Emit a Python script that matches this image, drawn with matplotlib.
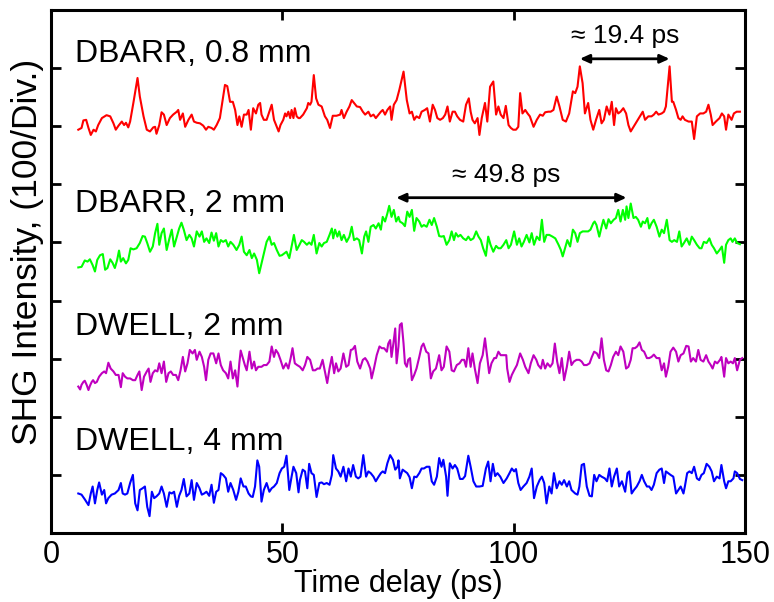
import numpy as np
import matplotlib
matplotlib.use("Agg")
import matplotlib.pyplot as plt

# SHG autocorrelation traces, (delay in ps, counts above the trace's own baseline)
dbarr_08mm = [
    (5.9, -6), (6.6, -3), (7.0, 10), (7.6, 11), (8.1, -3), (8.6, -15), (9.2, -6), (9.7, -9),
    (10.2, 2), (11.0, 14), (12.0, 19), (12.8, 17), (13.5, 5), (14.0, -6), (14.6, 1), (15.3, 8),
    (15.8, 2), (16.2, 6), (16.7, -2), (17.1, 8), (17.8, 40), (18.7, 83), (19.2, 51), (20.0, 17),
    (20.7, -6), (21.4, -9), (22.1, -2), (22.5, -1), (22.8, -13), (23.4, 2), (23.9, 24), (24.4, 20),
    (25.0, 2), (25.7, 14), (26.4, 20), (27.2, 25), (27.5, 28), (27.9, 11), (28.5, 22), (29.0, -1),
    (29.7, 11), (30.4, 20), (30.9, 8), (31.5, 6), (32.2, 5), (32.9, 1), (33.5, -6), (34.0, -1),
    (34.7, -3), (35.2, -6), (35.8, 2), (36.5, 14), (37.1, 45), (37.6, 71), (38.1, 69), (38.7, 42),
    (39.3, 42), (39.8, 28), (40.3, 2), (40.7, 17), (41.2, -1), (41.7, 20), (42.3, 20), (42.7, 28),
    (43.2, -6), (43.7, 31), (44.3, 22), (44.8, 37), (45.2, 40), (45.5, 20), (46.0, 11), (46.6, 11),
    (47.2, 25), (47.7, 37), (48.2, 11), (48.8, -1), (49.2, -9), (49.6, 2), (50.2, 11), (50.6, 22),
    (50.9, 17), (51.3, 25), (51.7, 14), (52.0, 28), (52.4, 14), (52.7, 31), (53.1, 17), (53.5, 14),
    (53.8, 14), (54.5, 20), (55.3, 31), (55.6, 40), (56.0, 37), (56.3, 42), (56.8, 88), (57.3, 48),
    (57.8, 37), (58.5, 34), (59.2, 17), (59.7, 11), (60.3, -3), (60.9, 18), (61.7, 18), (62.5, 20),
    (62.8, 28), (63.3, 14), (63.9, 25), (64.5, 34), (65.0, 45), (65.5, 40), (66.1, 34), (66.8, 33),
    (67.4, 25), (67.9, 20), (68.6, 25), (69.1, 17), (69.7, 20), (70.2, 14), (70.8, 20), (71.3, 25),
    (71.7, 28), (72.2, 20), (72.7, 28), (73.3, 34), (73.6, 11), (74.1, 37), (74.7, 45), (75.3, 63),
    (76.2, 94), (76.9, 45), (77.5, 22), (78.0, 25), (78.5, 11), (79.0, 17), (79.6, 14), (80.1, 25),
    (80.8, 28), (81.3, 31), (81.9, 8), (82.5, 37), (83.0, 28), (83.5, 14), (84.1, 11), (84.7, 14),
    (85.2, 20), (85.7, 34), (86.2, 8), (86.8, 25), (87.3, 25), (87.8, 17), (88.4, 11), (89.1, 8),
    (89.7, 37), (90.3, 48), (90.7, 25), (91.1, 11), (91.6, 5), (92.2, 14), (92.6, -15), (93.1, 14),
    (93.8, 40), (94.3, 8), (94.9, 68), (95.6, 77), (96.2, 20), (96.7, 34), (97.2, 20), (97.8, 14),
    (98.3, 35), (98.9, 2), (99.4, -3), (99.9, -6), (100.5, -6), (101.0, -1), (101.4, 57), (101.9, 22),
    (102.5, 28), (103.0, 22), (103.5, 17), (104.3, -1), (105.0, 11), (105.7, 20), (106.3, 18), (106.8, 24),
    (107.5, 25), (108.0, 25), (108.6, 28), (109.3, 51), (109.9, 34), (110.6, 11), (111.3, 8), (112.0, 22),
    (112.8, 60), (113.3, 57), (113.8, 68), (114.3, 103), (114.9, 74), (115.4, 22), (116.1, 40), (116.6, 11),
    (117.2, -6), (117.8, 11), (118.5, 28), (119.0, 5), (119.5, 11), (120.1, 34), (120.7, 20), (121.2, 42),
    (121.7, 2), (122.1, 31), (122.6, 22), (123.1, 25), (123.7, 31), (124.3, 22), (124.8, 2), (125.3, -9),
    (125.9, -1), (126.6, 8), (127.3, 17), (127.9, 25), (128.4, 11), (129.1, 17), (129.8, 17), (130.3, 20),
    (130.8, 25), (131.3, 20), (132.0, 22), (132.5, 25), (132.9, 34), (133.7, 103), (134.2, 42), (134.5, 42),
    (135.1, 28), (135.6, 14), (136.1, 11), (136.5, 17), (137.0, 11), (137.8, 8), (138.5, 8), (139.0, -22),
    (139.6, 17), (140.3, 22), (141.0, 22), (141.6, 25), (142.1, 37), (142.6, 20), (143.0, 2), (143.7, 8),
    (144.5, 14), (145.0, 22), (145.5, 17), (145.9, -6), (146.4, 20), (147.1, 11), (147.6, 22), (148.2, 25),
    (148.9, 25),
]

dbarr_2mm = [
    (5.9, -43), (6.6, -42), (7.3, -31), (7.9, -33), (8.4, -29), (9.0, -39), (9.5, -50), (10.0, -30),
    (10.6, -22), (11.2, -20), (11.7, -47), (12.2, -44), (12.8, -29), (13.3, -35), (13.8, -44), (14.3, -30),
    (14.7, -14), (15.1, -33), (15.6, -27), (16.2, -36), (16.7, -30), (17.2, -10), (17.8, -12), (18.5, -10),
    (19.2, -1), (19.8, 11), (20.3, 10), (20.8, -1), (21.4, -16), (22.0, -7), (22.5, 16), (23.0, 32),
    (23.4, -4), (23.9, 16), (24.4, 24), (25.0, -13), (25.6, 7), (26.1, 22), (26.6, -7), (27.2, 10),
    (27.7, 24), (28.2, 34), (28.7, 22), (29.3, 4), (29.9, 13), (30.4, 7), (30.9, -7), (31.5, 19),
    (32.1, 10), (32.6, 19), (33.1, 1), (33.6, 7), (34.2, -1), (34.7, 17), (35.2, 3), (35.7, 16),
    (36.2, -7), (36.7, 4), (37.2, 1), (37.8, 4), (38.3, -7), (38.8, 1), (39.4, -4), (40.1, -13),
    (40.7, -4), (41.2, 10), (41.7, -16), (42.3, -22), (42.9, -13), (43.4, -27), (43.9, -19), (44.5, -30),
    (45.0, -53), (45.5, -36), (46.0, -19), (46.6, 1), (47.2, 10), (47.7, -4), (48.2, -1), (48.8, -13),
    (49.4, -23), (49.9, -22), (50.4, -19), (50.9, -16), (51.5, -27), (52.0, -7), (52.5, 13), (53.1, -13),
    (53.7, -4), (54.2, 4), (54.7, 1), (55.3, -4), (55.8, 0), (56.3, -4), (56.8, 13), (57.4, -19),
    (58.0, -1), (58.5, -7), (59.0, -1), (59.6, 1), (60.2, 13), (60.7, 24), (61.0, 7), (61.4, 22),
    (61.9, 10), (62.3, 19), (62.8, 4), (63.3, 13), (63.9, 1), (64.5, 10), (65.0, 27), (65.5, 4),
    (66.1, 7), (66.6, 4), (67.2, -19), (67.7, 10), (68.1, 19), (68.6, 1), (69.1, 27), (69.7, 30),
    (70.2, 24), (70.8, 33), (71.3, 22), (71.7, 44), (72.2, 36), (72.7, 50), (73.1, 63), (73.6, 44),
    (74.1, 56), (74.6, 36), (75.1, 44), (75.4, 36), (76.0, 33), (76.5, 28), (77.0, 53), (77.5, 44),
    (78.0, 56), (78.5, 20), (79.0, 42), (79.6, 36), (80.1, 27), (80.6, 30), (81.2, 27), (81.8, 39),
    (82.3, 30), (82.8, 42), (83.4, 27), (83.9, 11), (84.4, 10), (84.9, 11), (85.5, -4), (86.1, 4),
    (86.6, 19), (87.1, 4), (87.5, 16), (88.0, 10), (88.5, 13), (89.1, 7), (89.7, 4), (90.2, 10),
    (90.7, 4), (91.3, 7), (91.9, 19), (92.4, 10), (92.9, 4), (93.4, -10), (94.0, -23), (94.5, 10),
    (95.0, -4), (95.6, -16), (96.2, -6), (96.7, -10), (97.2, -10), (97.8, -4), (98.4, 4), (98.9, -10),
    (99.4, -4), (100.1, 19), (100.7, -4), (101.2, 7), (101.7, -7), (102.2, 1), (102.8, 13), (103.4, 0),
    (103.9, 16), (104.4, -4), (105.0, 10), (105.6, 4), (106.1, 39), (106.6, 1), (107.1, 13), (107.7, 13),
    (108.4, 10), (109.0, 7), (109.7, -4), (110.2, -13), (110.6, -24), (111.1, -10), (111.6, 4), (112.2, -7),
    (112.8, 22), (113.3, 16), (113.8, 1), (114.3, 16), (114.9, 19), (115.4, 19), (116.1, 19), (116.6, 22),
    (117.2, 33), (117.5, 36), (117.9, 30), (118.5, 10), (119.0, 27), (119.4, 39), (120.0, 24), (120.5, 40),
    (121.0, 33), (121.6, 39), (122.1, 42), (122.6, 56), (123.1, 36), (123.6, 56), (124.1, 39), (124.4, 62),
    (124.8, 42), (125.3, 67), (125.9, 42), (126.4, 44), (126.9, 39), (127.5, 27), (127.9, 36), (128.4, 33),
    (128.9, 42), (129.3, 24), (129.8, 33), (130.3, 39), (130.9, 27), (131.5, 10), (132.0, 22), (132.5, 16),
    (133.1, 39), (133.7, 4), (134.2, 1), (134.7, 4), (135.3, 1), (135.8, 19), (136.3, -7), (136.8, -1),
    (137.4, 7), (138.0, -4), (138.5, 10), (139.0, 4), (139.6, -4), (140.2, -10), (140.6, -10), (141.1, 1),
    (141.7, -1), (142.3, 7), (142.8, -4), (143.3, -10), (143.9, -19), (144.5, -13), (145.0, -7), (145.5, -35),
    (145.9, -4), (146.4, 4), (146.9, 7), (147.3, 1), (147.8, 7), (148.3, -1), (148.9, -3),
]

dwell_2mm = [
    (5.9, -48), (6.3, -53), (6.6, -45), (7.0, -40), (7.3, -38), (7.7, -45), (8.1, -54), (8.4, -47),
    (8.8, -40), (9.1, -37), (9.5, -42), (9.9, -40), (10.4, -31), (11.0, -25), (11.5, -22), (11.9, -25),
    (12.4, -7), (12.9, -17), (13.5, -22), (14.0, -28), (14.6, -28), (15.1, -49), (15.5, -25), (16.0, -31),
    (16.5, -34), (17.1, -34), (17.7, -37), (18.2, -37), (18.7, -28), (19.1, -22), (19.6, -54), (20.1, -31),
    (20.7, -22), (21.1, -17), (21.5, -40), (22.0, -25), (22.5, -20), (23.0, -22), (23.4, -8), (23.9, -25),
    (24.4, -5), (24.9, -40), (25.4, -25), (25.9, -22), (26.4, -28), (27.0, -28), (27.5, -37), (28.0, -20),
    (28.5, 3), (29.0, -22), (29.5, -8), (30.0, 15), (30.6, 9), (31.1, 15), (31.5, -2), (32.1, 12),
    (32.6, 3), (33.1, -14), (33.5, -37), (34.0, -2), (34.5, 9), (35.1, 9), (35.7, -8), (36.2, 9),
    (36.7, -11), (37.2, -20), (37.8, -25), (38.3, -34), (38.8, -5), (39.3, -34), (39.8, -20), (40.3, -48),
    (40.7, -8), (41.0, 14), (41.4, 3), (41.9, -11), (42.3, -20), (42.9, 12), (43.4, -17), (43.9, -5),
    (44.3, -20), (44.8, -14), (45.5, -14), (46.0, -11), (46.6, -11), (47.2, -5), (47.7, 21), (48.2, 3),
    (48.6, 15), (49.1, 9), (49.6, -2), (50.2, -17), (50.8, -8), (51.3, -17), (51.8, 1), (52.2, 18),
    (52.7, -8), (53.2, -11), (53.8, -14), (54.4, -20), (54.9, -11), (55.4, 3), (56.0, -2), (56.6, -20),
    (57.1, -20), (57.6, -17), (58.1, -17), (58.7, -2), (59.2, -22), (59.7, -42), (60.2, -17), (60.7, 3),
    (61.2, -25), (61.6, -8), (62.1, -22), (62.6, -17), (63.2, 9), (63.8, -14), (64.3, -11), (64.8, 15),
    (65.2, 16), (65.7, 22), (66.2, -5), (66.8, -17), (67.4, -2), (67.9, 1), (68.4, -5), (69.0, -17),
    (69.3, -34), (69.8, -17), (70.4, 6), (71.0, 21), (71.5, 18), (72.0, 18), (72.6, 12), (72.9, 26),
    (73.3, 32), (73.6, 3), (74.0, 26), (74.4, 52), (74.7, -8), (75.1, 21), (75.4, 58), (75.8, 61),
    (76.2, 26), (76.5, -8), (76.9, -14), (77.2, -2), (77.6, 1), (78.0, -37), (78.5, -28), (79.0, -17),
    (79.6, 3), (80.1, 21), (80.5, 26), (81.1, 12), (81.6, 9), (82.1, -34), (82.6, -22), (83.2, -17),
    (83.9, 6), (84.4, -20), (84.9, -14), (85.5, 21), (86.1, 12), (86.6, -20), (87.1, -22), (87.7, -11),
    (88.3, -8), (88.8, -2), (89.3, -2), (89.7, -14), (90.2, 18), (90.7, -14), (91.1, 9), (91.6, -17),
    (92.2, -42), (92.7, -8), (93.3, 6), (93.8, 35), (94.3, 1), (94.7, -25), (95.2, -8), (95.8, 1),
    (96.2, 1), (96.7, 12), (97.2, 6), (97.8, 6), (98.4, 6), (98.6, -17), (99.1, -40), (99.6, -28),
    (100.1, -20), (100.7, -11), (101.4, 9), (102.0, -2), (102.5, -14), (103.2, -25), (103.7, -8), (104.3, 6),
    (104.9, -2), (105.3, -11), (105.9, -17), (106.3, -2), (106.8, -17), (107.3, -8), (107.9, -14), (108.4, -8),
    (108.9, 26), (109.4, -5), (109.9, -25), (110.4, 1), (110.9, -37), (111.5, -14), (112.0, 12), (112.5, -11),
    (113.0, -5), (113.6, -2), (114.2, -2), (114.7, -5), (115.2, -11), (115.8, -11), (116.4, -8), (116.9, 3),
    (117.4, 12), (118.0, 9), (118.5, 1), (119.0, 35), (119.5, -2), (120.0, -20), (120.5, -22), (121.0, -11),
    (121.5, 3), (122.1, 12), (122.6, 6), (123.1, 21), (123.7, 12), (124.3, -17), (124.8, -14), (125.3, -2),
    (125.7, 18), (126.2, 18), (126.7, 21), (127.2, 28), (127.7, 15), (128.2, 12), (128.8, 1), (129.3, 1),
    (129.8, 3), (130.3, 7), (130.9, 1), (131.5, 1), (132.0, -20), (132.5, -8), (132.9, -31), (133.4, -14),
    (133.9, 12), (134.5, 19), (135.1, 12), (135.6, -5), (136.1, 6), (136.7, 9), (137.3, 22), (137.8, 21),
    (138.3, -5), (138.8, 1), (139.4, -5), (139.9, 15), (140.4, -2), (141.0, -5), (141.6, 6), (142.1, -5),
    (142.6, -11), (143.0, -17), (143.5, -5), (144.0, -8), (144.6, -2), (144.9, 3), (145.5, -31), (145.9, 1),
    (146.4, -8), (146.9, -5), (147.4, -8), (147.8, 1), (148.3, -20), (148.9, -2), (149.4, 1),
]

dwell_4mm = [
    (5.9, -32), (6.6, -34), (7.3, -42), (8.1, -52), (8.6, -32), (9.0, -20), (9.5, -49), (10.0, -26),
    (10.4, -13), (11.0, -34), (11.5, -26), (11.9, -49), (12.4, -40), (13.1, -34), (13.8, -32), (14.6, -26),
    (15.1, -14), (15.5, -32), (16.0, -34), (16.5, -32), (17.1, -14), (17.7, 0), (18.2, -49), (18.7, -61),
    (19.2, -26), (19.8, -23), (20.3, -20), (20.8, -55), (21.3, -71), (21.8, -29), (22.3, -40), (22.8, -37),
    (23.4, -32), (23.9, -20), (24.4, -32), (25.0, -55), (25.6, -30), (26.1, -32), (26.6, -29), (27.2, -55),
    (27.7, -36), (28.2, -26), (28.7, -7), (29.3, -37), (29.9, -32), (30.4, -9), (30.9, -43), (31.5, -14),
    (32.1, -23), (32.6, -34), (33.1, -32), (33.6, -29), (34.2, -36), (34.7, -17), (35.2, -48), (35.7, -29),
    (36.2, -26), (36.7, 3), (37.2, 0), (37.8, -6), (38.3, -29), (38.8, -14), (39.4, -26), (40.0, -43),
    (40.5, -29), (41.0, -6), (41.6, -20), (42.1, -20), (42.7, -32), (43.2, -37), (43.6, -38), (44.1, -20),
    (44.6, 25), (45.0, 14), (45.5, -46), (46.0, -26), (46.6, -14), (47.2, -29), (47.7, -23), (48.2, -20),
    (48.8, -14), (49.4, 3), (49.9, 11), (50.4, 14), (50.9, 33), (51.5, -26), (52.0, -3), (52.4, 14),
    (53.0, 3), (53.5, -30), (53.8, -9), (54.4, 9), (54.9, 6), (55.4, -23), (55.8, 19), (56.3, 3),
    (56.8, 0), (57.4, -38), (58.0, -14), (58.5, -13), (59.0, -16), (59.6, -14), (60.2, -17), (60.7, 0),
    (61.0, 34), (61.6, 11), (62.1, 6), (62.6, -3), (63.2, 14), (63.8, -11), (64.3, 11), (64.8, -3),
    (65.3, 17), (65.9, -3), (66.4, -6), (66.9, -3), (67.5, 34), (68.1, -3), (68.6, 6), (69.1, 3),
    (69.7, -3), (70.2, -11), (70.8, -3), (71.3, 3), (71.7, 6), (72.2, 3), (72.7, 20), (73.3, 34),
    (73.9, 26), (74.4, 9), (74.9, 14), (75.1, 25), (75.4, -6), (76.0, 9), (76.5, 6), (77.0, 3),
    (77.5, -4), (78.0, -23), (78.5, -3), (79.0, -4), (79.6, 3), (80.1, 11), (80.6, 11), (81.2, 14),
    (81.8, 14), (82.3, -11), (82.8, -17), (83.4, -3), (83.9, 29), (84.4, 14), (84.8, 26), (85.4, -3),
    (85.7, -36), (86.2, 20), (86.8, 11), (87.3, 17), (87.8, 11), (88.4, -7), (89.0, -7), (89.5, -2),
    (90.2, 33), (90.7, 14), (91.3, -11), (91.9, -20), (92.6, -20), (93.3, -19), (94.0, 11), (94.5, 23),
    (95.0, -11), (95.5, 19), (96.0, -2), (96.5, 3), (97.1, -3), (97.8, -14), (98.5, -6), (99.1, 3),
    (99.6, 11), (100.1, 6), (100.5, 10), (101.0, -14), (101.5, -26), (102.1, -20), (102.8, -14), (103.4, -3),
    (103.9, 11), (104.4, -40), (105.0, -20), (105.6, -9), (106.1, -3), (106.6, -14), (107.1, -49), (107.7, -20),
    (108.2, -32), (108.7, 3), (109.3, -23), (109.9, -11), (110.4, -17), (110.9, -9), (111.5, -20), (112.0, -11),
    (112.5, -26), (113.3, -32), (113.8, -34), (114.2, -20), (114.7, 17), (115.2, 19), (115.8, -20), (116.4, -36),
    (116.9, -37), (117.4, 0), (117.9, -11), (118.5, 0), (119.0, -3), (119.7, -6), (120.2, -11), (120.7, 11),
    (121.2, -20), (121.7, -3), (122.3, 11), (122.8, -20), (123.4, -11), (124.1, -29), (124.6, 3), (125.0, 6),
    (125.5, -32), (126.0, -26), (126.6, -20), (127.2, -11), (127.7, 0), (128.2, -11), (128.8, -20), (129.3, -20),
    (129.8, -26), (130.3, -17), (130.9, 3), (131.5, 9), (132.0, 11), (132.5, -14), (132.9, 6), (133.4, 3),
    (133.9, 0), (134.5, -3), (135.1, -32), (135.6, -26), (136.1, -20), (136.7, -32), (137.0, -20), (137.5, 3),
    (138.0, 6), (138.5, 3), (139.0, 14), (139.6, -6), (140.1, -9), (140.6, 0), (141.1, 3), (141.7, 19),
    (142.3, 14), (142.8, 6), (143.3, -11), (143.9, -3), (144.5, -6), (144.9, 17), (145.5, -11), (145.9, -23),
    (146.4, -11), (146.9, -11), (147.5, -6), (147.8, 6), (148.3, 3), (148.9, -7), (149.4, -9),
]

traces = [dbarr_08mm, dbarr_2mm, dwell_2mm, dwell_4mm]
labels = ["DBARR, 0.8 mm", "DBARR, 2 mm", "DWELL, 2 mm", "DWELL, 4 mm"]
baselines = [700, 500, 300, 100]   # counts, 100 per division
colors = ["#ff0000", "#00ff00", "#bf00bf", "#0000ff"]
label_y = [811, 552, 341, 143]

# peak-to-peak separations marked on the two DBARR traces
sep_ps = [19.4, 49.8]
sep_start = [114.3, 74.6]
sep_y = [816, 577]
sep_text_xy = [(124.1, 843), (98.3, 604)]

sans = ["Liberation Sans", "DejaVu Sans"]

fig = plt.figure(figsize=(7.74, 6.02), dpi=100)
ax = fig.add_axes([51 / 774, 69 / 602, 694 / 774, 523 / 602])

for data, base, col in zip(traces, baselines, colors):
    arr = np.array(data, dtype=float)
    ax.plot(arr[:, 0], arr[:, 1] + base, color=col, lw=1.5)

for lab, y in zip(labels, label_y):
    ax.text(5.2, y, lab, fontsize=23, family=sans, ha="left", va="baseline")

for ps, x0, y, (tx, ty) in zip(sep_ps, sep_start, sep_y, sep_text_xy):
    ax.annotate("", xy=(x0 + ps, y), xytext=(x0, y),
                arrowprops=dict(arrowstyle="<|-|>,head_length=0.55,head_width=0.25",
                                color="black", lw=2, shrinkA=0, shrinkB=0))
    ax.text(tx, ty, f"\u2248 {ps} ps", fontsize=19, family=sans, ha="center", va="baseline")

ax.set_xlim(0, 150)
ax.set_ylim(0, 900)
ax.set_xticks([0, 50, 100, 150])
ax.set_yticks(range(100, 900, 100))
ax.set_yticklabels([])
ax.tick_params(direction="in", length=7, width=2, top=True, right=True, pad=5)
for lbl in ax.get_xticklabels():
    lbl.set_family(sans)
    lbl.set_fontsize(22)
for sp in ax.spines.values():
    sp.set_linewidth(2.2)

ax.set_xlabel("Time delay (ps)", fontsize=22, family=sans, labelpad=-1)
ax.set_ylabel("SHG Intensity, (100/Div.)", fontsize=25.5, family=sans)
ax.yaxis.set_label_coords(-0.01, 0.538)

fig.savefig("out.png", dpi=100)
